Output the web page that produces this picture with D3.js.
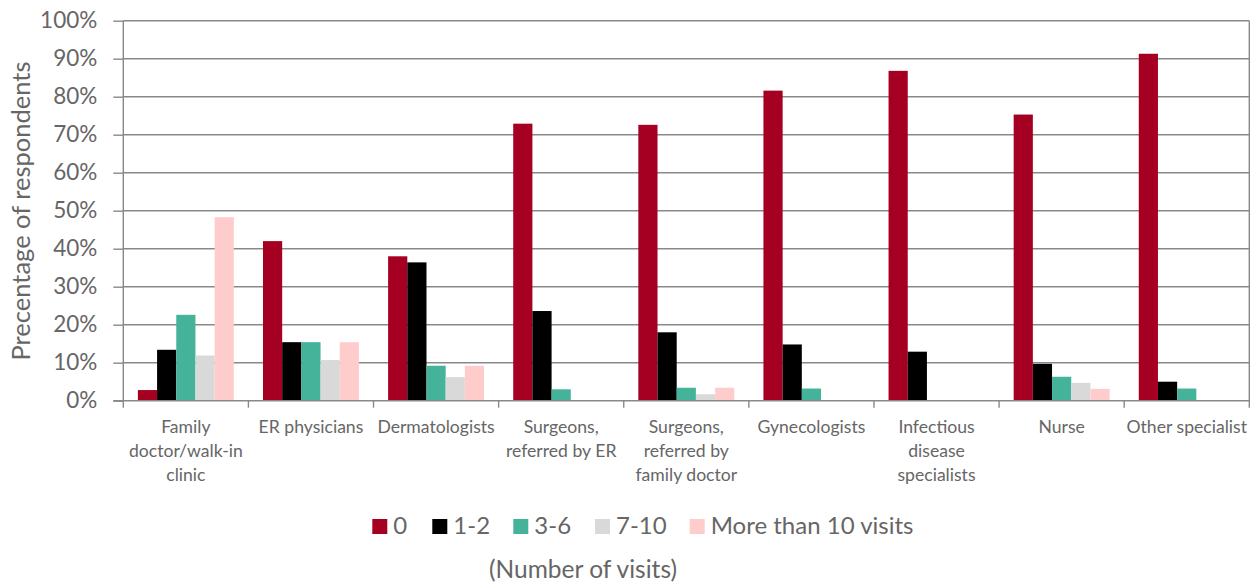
<!DOCTYPE html>
<html>
<head>
<meta charset="utf-8">
<script src="https://cdn.jsdelivr.net/npm/d3@7"></script>
<style>
  html, body { margin: 0; padding: 0; background: #fff; }
  svg { display: block; }
  text { font-family: "Lato", "Liberation Sans", sans-serif; fill: #666666; }
</style>
</head>
<body>
<svg id="chart" width="1257" height="585"></svg>
<script>
const categories = [
  ["Family", "doctor/walk-in", "clinic"],
  ["ER physicians"],
  ["Dermatologists"],
  ["Surgeons,", "referred by ER"],
  ["Surgeons,", "referred by", "family doctor"],
  ["Gynecologists"],
  ["Infectious", "disease", "specialists"],
  ["Nurse"],
  ["Other specialist"]
];
const seriesNames = ["0", "1-2", "3-6", "7-10", "More than 10 visits"];
const seriesColors = ["#A50021", "#000000", "#45B39A", "#D9D9D9", "#FFCCCC"];
const v0     = [2.8, 42.0, 38.0, 72.9, 72.6, 81.6, 86.8, 75.3, 91.3];
const v1_2   = [13.4, 15.4, 36.4, 23.6, 18.0, 14.8, 12.9, 9.7, 5.0];
const v3_6   = [22.6, 15.4, 9.2, 3.0, 3.4, 3.2, 0, 6.3, 3.2];
const v7_10  = [11.9, 10.7, 6.2, 0, 1.7, 0, 0, 4.7, 0];
const v10p   = [48.3, 15.4, 9.2, 0, 3.4, 0, 0, 3.1, 0];
const yTicks = [0, 10, 20, 30, 40, 50, 60, 70, 80, 90, 100];
const yTitle = "Precentage of respondents";
const xTitle = "(Number of visits)";

const series = [v0, v1_2, v3_6, v7_10, v10p];

const svg = d3.select("#chart");
const pL = 123.3, pR = 1249.3, pT = 20.7, pB = 400.7;
const axisColor = "#898989";

const x0 = d3.scaleBand().domain(d3.range(categories.length)).range([pL, pR]).paddingInner(0).paddingOuter(0);
const x1 = d3.scaleBand().domain(d3.range(series.length)).range([0, x0.bandwidth()]).paddingOuter(0.76).paddingInner(0);
const y = d3.scaleLinear().domain([0, 100]).range([pB, pT]);

// gridlines
svg.append("g").selectAll("line").data(yTicks.filter(d => d > 0)).join("line")
  .attr("x1", pL).attr("x2", pR)
  .attr("y1", d => y(d)).attr("y2", d => y(d))
  .attr("stroke", axisColor).attr("stroke-width", 1.4);

// right border
svg.append("line").attr("x1", pR).attr("x2", pR).attr("y1", pT).attr("y2", pB + 7)
  .attr("stroke", axisColor).attr("stroke-width", 1.4);

// bars
const g = svg.append("g");
series.forEach((vals, si) => {
  g.append("g").selectAll("rect").data(vals).join("rect")
    .attr("x", (d, i) => x0(i) + x1(si))
    .attr("width", x1.bandwidth())
    .attr("y", d => y(d))
    .attr("height", d => y(0) - y(d))
    .attr("fill", seriesColors[si]);
});

// y axis
const yAxis = d3.axisLeft(y).tickValues(yTicks).tickFormat(d => d + "%").tickSize(10).tickPadding(16);
const ya = svg.append("g").attr("transform", `translate(${pL},0)`).call(yAxis);
ya.select(".domain").attr("stroke", axisColor).attr("stroke-width", 1.4).attr("d", `M0,${pT}V${pB + 7}`);
ya.selectAll(".tick line").attr("stroke", axisColor).attr("stroke-width", 1.4);
ya.selectAll(".tick text").attr("font-size", 22.5).attr("fill", "#666666").style("font-family", "Lato");

// x axis
const xAxisG = svg.append("g").attr("transform", `translate(0,${pB})`);
xAxisG.append("line").attr("x1", pL - 10).attr("x2", pR).attr("y1", 0).attr("y2", 0)
  .attr("stroke", axisColor).attr("stroke-width", 1.4);
xAxisG.selectAll("line.tk").data(d3.range(1, categories.length)).join("line").attr("class", "tk")
  .attr("x1", i => x0(i)).attr("x2", i => x0(i))
  .attr("y1", 0).attr("y2", 7)
  .attr("stroke", axisColor).attr("stroke-width", 1.4);
const lbl = xAxisG.selectAll("text.cat").data(categories).join("text").attr("class", "cat")
  .attr("text-anchor", "middle").attr("font-size", 17.6)
  .attr("x", (d, i) => x0(i) + x0.bandwidth() / 2).attr("y", 32);
lbl.selectAll("tspan").data(d => d).join("tspan")
  .attr("x", function() { return this.parentNode.getAttribute("x"); })
  .attr("dy", (d, i) => i === 0 ? 0 : 24)
  .text(d => d);

// y title
svg.append("text").attr("transform", `translate(30,211) rotate(-90)`)
  .attr("text-anchor", "middle").attr("font-size", 25.5).text(yTitle);

// legend
const legendX = [372.3, 432.3, 513.3, 595, 689.7];
const lg = svg.append("g");
seriesNames.forEach((n, i) => {
  lg.append("rect").attr("x", legendX[i]).attr("y", 519).attr("width", 15).attr("height", 15).attr("fill", seriesColors[i]);
  lg.append("text").attr("x", legendX[i] + 21).attr("y", 534).attr("font-size", 24).text(n);
});

svg.append("text").attr("x", 583).attr("y", 578).attr("text-anchor", "middle").attr("font-size", 24.5).text(xTitle);
</script>
</body>
</html>
